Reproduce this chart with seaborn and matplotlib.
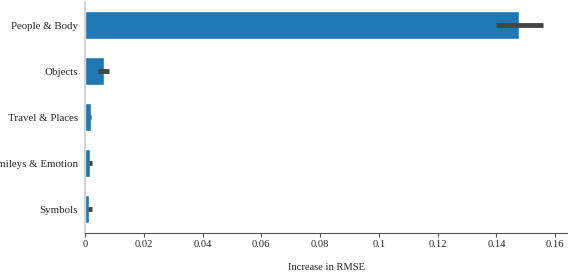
import numpy as np
import pandas as pd
import matplotlib
matplotlib.use("Agg")
import matplotlib.pyplot as plt
import seaborn as sns

categories = ["People & Body", "Objects", "Travel & Places", "Smileys & Emotion", "Symbols"]
rmse_increase = [0.1477, 0.0063, 0.0019, 0.0017, 0.0015]
ci_low = [0.1397, 0.0044, 0.0017, 0.0013, 0.0009]
ci_high = [0.1559, 0.0080, 0.0021, 0.0023, 0.0025]

sns.set_style("white")
plt.rcParams['font.family'] = ['Liberation Serif', 'DejaVu Serif']

df = pd.DataFrame({"category": categories, "value": rmse_increase})

fig = plt.figure(figsize=(5.82, 2.78), dpi=100)
ax = fig.add_axes([85 / 582, 45 / 278, 482 / 582, 231 / 278])

sns.barplot(data=df, x="value", y="category", orient="h", color="#1f77b4",
            saturation=1, width=0.6, errorbar=None, ax=ax)

# error bars drawn separately from the read-off interval bounds
vals = np.array(rmse_increase)
xerr = np.vstack([vals - np.array(ci_low), np.array(ci_high) - vals])
ax.errorbar(vals, np.arange(len(categories)), xerr=xerr, fmt="none",
            ecolor="#444444", elinewidth=3.5, capsize=0)

ax.set_xlim(0, 0.164)
ax.set_ylim(4.52, -0.5)
ax.set_xticks(np.arange(0, 0.161, 0.02))
ax.set_xticklabels(["0", "0.02", "0.04", "0.06", "0.08", "0.1", "0.12", "0.14", "0.16"])
ax.set_xlabel("Increase in RMSE", fontsize=7.6, labelpad=10)
ax.set_ylabel("")

ax.tick_params(axis="x", length=3, width=0.8, color="#555555", labelsize=7.6, pad=2, bottom=True)
ax.tick_params(axis="y", length=0, labelsize=7.8, pad=5)

sns.despine(ax=ax)
ax.spines["left"].set_color("#cccccc")
ax.spines["left"].set_linewidth(1.2)
ax.spines["bottom"].set_color("#555555")
ax.spines["bottom"].set_linewidth(0.8)

fig.savefig("out.png", dpi=100)
